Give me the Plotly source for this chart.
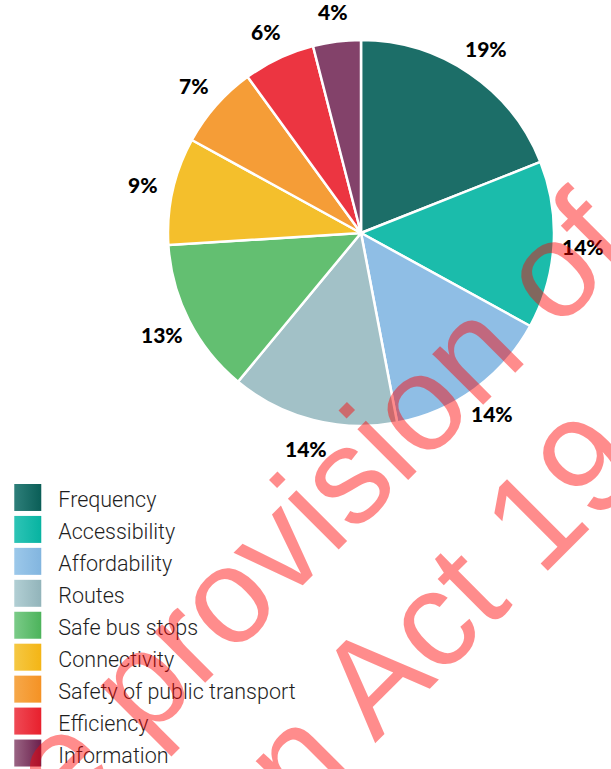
import math
import plotly.graph_objects as go

# ---- data ----
categories = ["Frequency", "Accessibility", "Affordability", "Routes",
              "Safe bus stops", "Connectivity", "Safety of public transport",
              "Efficiency", "Information"]
shares = [19, 14, 14, 14, 13, 9, 7, 6, 4]
pct_labels = [f"{v}%" for v in shares]

# gradient colours (left/light -> right/dark)
colors_light = ["#2e7f7a", "#2ec4b6", "#9cc8ea", "#b2cfd4", "#7bcb88",
                "#f5c844", "#f6a84a", "#ef4a55", "#9a6584"]
colors_dark = ["#0a5e57", "#07b3a1", "#82b5df", "#92b4ba", "#4cb35b",
               "#f4b515", "#f59224", "#e8202d", "#6b1f4c"]
colors_mid = ["#1c6e68", "#1bbcab", "#8fbee5", "#a2c1c7", "#63bf71",
              "#f4bf2c", "#f59d37", "#ec3541", "#83426a"]

watermark_lines = ["e provision of", "n Act 19"]

W, H = 611, 769
# pie geometry (pixels)
CX, CY, R = 361, 233, 193
pie_dom_x = [(CX - R) / W, (CX + R) / W]
pie_dom_y = [1 - (CY + R) / H, 1 - (CY - R) / H]

fig = go.Figure()

fig.add_trace(go.Pie(
    values=shares, labels=categories, sort=False, direction="clockwise",
    rotation=0, textinfo="none", showlegend=False,
    marker=dict(colors=colors_mid, line=dict(color="white", width=2.5)),
    domain=dict(x=pie_dom_x, y=pie_dom_y),
    hovertemplate="%{label}: %{value}%<extra></extra>",
))

# legend drawn as scatter on hidden axes
fig.add_trace(go.Scatter(
    x=[0] * len(categories), y=categories, mode="markers",
    marker=dict(symbol="square", size=27, color=colors_light,
                gradient=dict(type="horizontal", color=colors_dark),
                line=dict(width=0)),
    showlegend=False, hoverinfo="skip", xaxis="x", yaxis="y",
))
fig.add_trace(go.Scatter(
    x=[1.1] * len(categories), y=categories, mode="text",
    text=categories, textposition="middle right",
    textfont=dict(family="Roboto", size=21.5, color="#1e1e1e", weight=300),
    showlegend=False, hoverinfo="skip", xaxis="x", yaxis="y2",
))

# percentage labels around the pie
total = sum(shares)
annotations = []
cum = 0
k = 1.155
for v, lab in zip(shares, pct_labels):
    m = (cum + v / 2) / total
    cum += v
    th = 2 * math.pi * m
    px = CX + k * R * math.sin(th)
    py = CY - k * R * math.cos(th)
    annotations.append(dict(
        x=px / W, y=1 - py / H, xref="paper", yref="paper",
        text=lab, showarrow=False, xanchor="center", yanchor="middle",
        font=dict(family="Lato", size=21, color="#000000", weight=900),
    ))

# watermark
wm_pos = [(317.5, 503.7), (440.0, 612.0)]
for txt, (wx, wy) in zip(watermark_lines, wm_pos):
    annotations.append(dict(
        x=wx / W, y=1 - wy / H, xref="paper", yref="paper",
        text=txt, showarrow=False, xanchor="center", yanchor="middle",
        textangle=-45,
        font=dict(family="Liberation Sans", size=136, color="rgba(255,0,0,0.45)"),
    ))

leg_top = 481.5
row_px = 32.0
s = 4.6 / row_px
ydom = [0, (H - leg_top) / H]
fig.update_layout(
    width=W, height=H, margin=dict(l=0, r=0, t=0, b=0),
    paper_bgcolor="white", plot_bgcolor="rgba(0,0,0,0)",
    xaxis=dict(domain=[0, 0.5], range=[-1, 10], visible=False, fixedrange=True),
    yaxis=dict(domain=ydom, type="category",
               categoryorder="array", categoryarray=categories,
               range=[8.5, -0.5], visible=False, fixedrange=True),
    yaxis2=dict(domain=ydom, type="category",
                categoryorder="array", categoryarray=categories,
                range=[8.5 - s, -0.5 - s], visible=False, fixedrange=True,
                overlaying="y"),
    annotations=annotations,
)

fig.write_html(
    "out.html",
    config={"displayModeBar": False},
    post_script="document.body.style.margin='0';document.body.style.overflow='hidden';",
)
